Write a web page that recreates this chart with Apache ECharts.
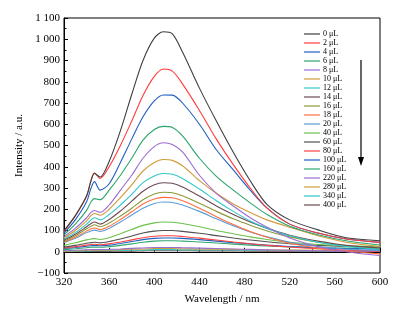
<!DOCTYPE html>
<html>
<head>
<meta charset="utf-8">
<script src="https://cdn.jsdelivr.net/npm/echarts@6/dist/echarts.min.js"></script>
<style>
	html, body { margin: 0; padding: 0; background: #fff; }
	#chart { width: 404px; height: 317px; }
</style>
</head>
<body>
<div id="chart"></div>
<script>
// wavelength sample points (nm)
let wavelengths = [320, 330, 340, 344, 347, 352, 360, 370, 380, 390, 400, 408, 416, 425, 440, 455, 470, 485, 500, 520, 545, 570, 600]

// intensity, one array per added volume
let v0 = [99, 170, 262, 335, 368, 352, 425, 570, 740, 900, 1005, 1035, 1025, 940, 770, 615, 468, 334, 222, 150, 103, 66, 52]
let v2 = [95, 168, 262, 338, 372, 345, 400, 500, 615, 735, 825, 860, 850, 790, 665, 530, 410, 300, 205, 130, 88, 60, 44]
let v4 = [88, 150, 235, 300, 330, 290, 320, 420, 530, 635, 710, 738, 737, 700, 600, 480, 385, 290, 205, 130, 88, 60, 44]
let v6 = [80, 130, 195, 235, 250, 245, 290, 360, 440, 525, 575, 590, 585, 545, 440, 355, 290, 230, 175, 120, 80, 52, 32]
let v8 = [72, 110, 160, 185, 194, 186, 220, 290, 360, 440, 495, 513, 505, 470, 360, 275, 215, 160, 115, 65, 25, 0, -18]
let v10 = [65, 100, 145, 170, 180, 172, 200, 255, 315, 380, 420, 434, 430, 405, 335, 275, 225, 185, 150, 115, 75, 45, 25]
let v12 = [60, 90, 130, 150, 160, 150, 175, 220, 270, 325, 357, 368, 365, 345, 295, 240, 190, 145, 110, 75, 45, 25, 12]
let v14 = [55, 82, 118, 133, 140, 130, 152, 192, 238, 285, 315, 325, 322, 305, 262, 215, 175, 140, 110, 78, 50, 30, 18]
let v16 = [50, 75, 108, 120, 127, 118, 135, 168, 205, 245, 272, 280, 278, 263, 228, 190, 155, 125, 98, 70, 45, 28, 15]
let v18 = [45, 68, 97, 108, 112, 104, 120, 152, 188, 225, 248, 256, 254, 240, 205, 165, 128, 95, 68, 40, 18, 2, -10]
let v20 = [42, 63, 90, 98, 102, 95, 110, 140, 173, 205, 227, 234, 232, 220, 190, 155, 122, 93, 70, 45, 25, 12, 5]
let v40 = [30, 42, 56, 60, 62, 58, 66, 85, 105, 124, 136, 140, 139, 133, 118, 100, 85, 70, 58, 45, 34, 28, 25]
let v60 = [22, 30, 40, 43, 45, 42, 48, 60, 74, 88, 97, 100, 100, 96, 87, 76, 65, 55, 47, 38, 30, 25, 22]
let v80 = [18, 24, 31, 34, 35, 33, 37, 46, 56, 66, 73, 75, 75, 72, 64, 55, 46, 38, 30, 22, 14, 8, 3]
let v100 = [15, 20, 26, 28, 30, 28, 31, 39, 48, 57, 63, 65, 65, 63, 57, 50, 43, 37, 31, 25, 19, 15, 12]
let v160 = [10, 14, 19, 21, 22, 21, 24, 30, 37, 45, 50, 52, 52, 50, 46, 41, 36, 31, 27, 23, 19, 17, 15]
let v220 = [5, 7, 9, 10, 10, 10, 11, 13, 16, 18, 20, 20, 20, 19, 17, 15, 13, 11, 9, 7, 5, 3, 2]
let v280 = [3, 4, 6, 7, 7, 7, 8, 10, 12, 13, 15, 15, 15, 14, 13, 12, 11, 10, 9, 8, 7, 6, 5]
let v340 = [2, 3, 4, 4, 5, 5, 5, 6, 7, 8, 10, 10, 10, 9, 9, 8, 8, 7, 6, 6, 5, 5, 4]
let v400 = [0, 1, 2, 2, 2, 2, 2, 3, 3, 4, 5, 5, 5, 5, 4, 4, 4, 3, 3, 3, 3, 2, 2]

let volumes = ['0 μL', '2 μL', '4 μL', '6 μL', '8 μL', '10 μL', '12 μL', '14 μL', '16 μL', '18 μL', '20 μL', '40 μL', '60 μL', '80 μL', '100 μL', '160 μL', '220 μL', '280 μL', '340 μL', '400 μL']
let spectra = [v0, v2, v4, v6, v8, v10, v12, v14, v16, v18, v20, v40, v60, v80, v100, v160, v220, v280, v340, v400]
let colors = ['#3f3f3f', '#ff3b3b', '#1f5fbf', '#2ca56a', '#9b6bd3', '#d09a3a', '#2fc8c8', '#6b4a52', '#8a9a3a', '#ff6f3f', '#5b9bd5', '#6cc24a', '#505050', '#ff4040', '#2060c0', '#30a870', '#9a70d0', '#d0a040', '#30c8c8', '#6a4a4a']

let xTicks = {min: 320, max: 600, interval: 40}
let yTicks = {min: -100, max: 1100, interval: 100}

let font = 'Liberation Serif'

let myChart = echarts.init(document.getElementById('chart'), null, {renderer: 'canvas'})

let series = []
for (let i = 0; i < spectra.length; i++) {
	let pts = []
	for (let j = 0; j < wavelengths.length; j++) {
		pts.push([wavelengths[j], spectra[i][j]])
	}
	series.push({
		name: volumes[i],
		type: 'line',
		data: pts,
		smooth: 0.3,
		showSymbol: false,
		lineStyle: {width: 1.1, color: colors[i]},
		itemStyle: {color: colors[i]},
		z: 20 - i
	})
}

let axisCommon = {
	axisLine: {show: true, lineStyle: {color: '#000', width: 1}},
	axisTick: {show: true, inside: true, length: 4, lineStyle: {color: '#000'}},
	minorTick: {show: true, splitNumber: 2, length: 2.5, lineStyle: {color: '#000'}},
	splitLine: {show: false},
	axisLabel: {color: '#000', fontFamily: font, fontSize: 11, margin: 4},
	nameTextStyle: {color: '#000', fontFamily: font, fontSize: 11}
}

let option = {
	animation: false,
	backgroundColor: '#fff',
	grid: {
		left: 64, right: 24, top: 18, bottom: 44,
		show: true, borderColor: '#000', borderWidth: 1
	},
	legend: {
		orient: 'vertical',
		left: 304,
		top: 30,
		itemWidth: 16,
		itemHeight: 8,
		itemGap: 1,
		padding: 0,
		icon: 'path://M0,3.4L16,3.4L16,4.6L0,4.6Z',
		textStyle: {color: '#000', fontFamily: font, fontSize: 8, padding: [0, 0, 0, -2]},
		data: volumes
	},
	xAxis: Object.assign({}, axisCommon, {
		type: 'value',
		min: xTicks.min, max: xTicks.max, interval: xTicks.interval,
		name: 'Wavelength / nm',
		nameLocation: 'middle',
		nameGap: 21
	}),
	yAxis: Object.assign({}, axisCommon, {
		type: 'value',
		min: yTicks.min, max: yTicks.max, interval: yTicks.interval,
		name: 'Intensity / a.u.',
		nameLocation: 'middle',
		nameGap: 31,
		axisLabel: Object.assign({}, axisCommon.axisLabel, {
			formatter: function (v) {
				if (v < 0) return '\u2212' + Math.abs(v)
				if (v >= 1000) return Math.floor(v / 1000) + ' ' + String(v % 1000).padStart(3, '0')
				return String(v)
			}
		})
	}),
	graphic: [{
		type: 'group',
		children: [{
			type: 'line',
			shape: {x1: 361, y1: 60, x2: 361, y2: 160},
			style: {stroke: '#000', lineWidth: 1.2}
		}, {
			type: 'polygon',
			shape: {points: [[358, 157], [364, 157], [361, 166]]},
			style: {fill: '#000'}
		}]
	}],
	series: series
}

myChart.setOption(option)
</script>
</body>
</html>
